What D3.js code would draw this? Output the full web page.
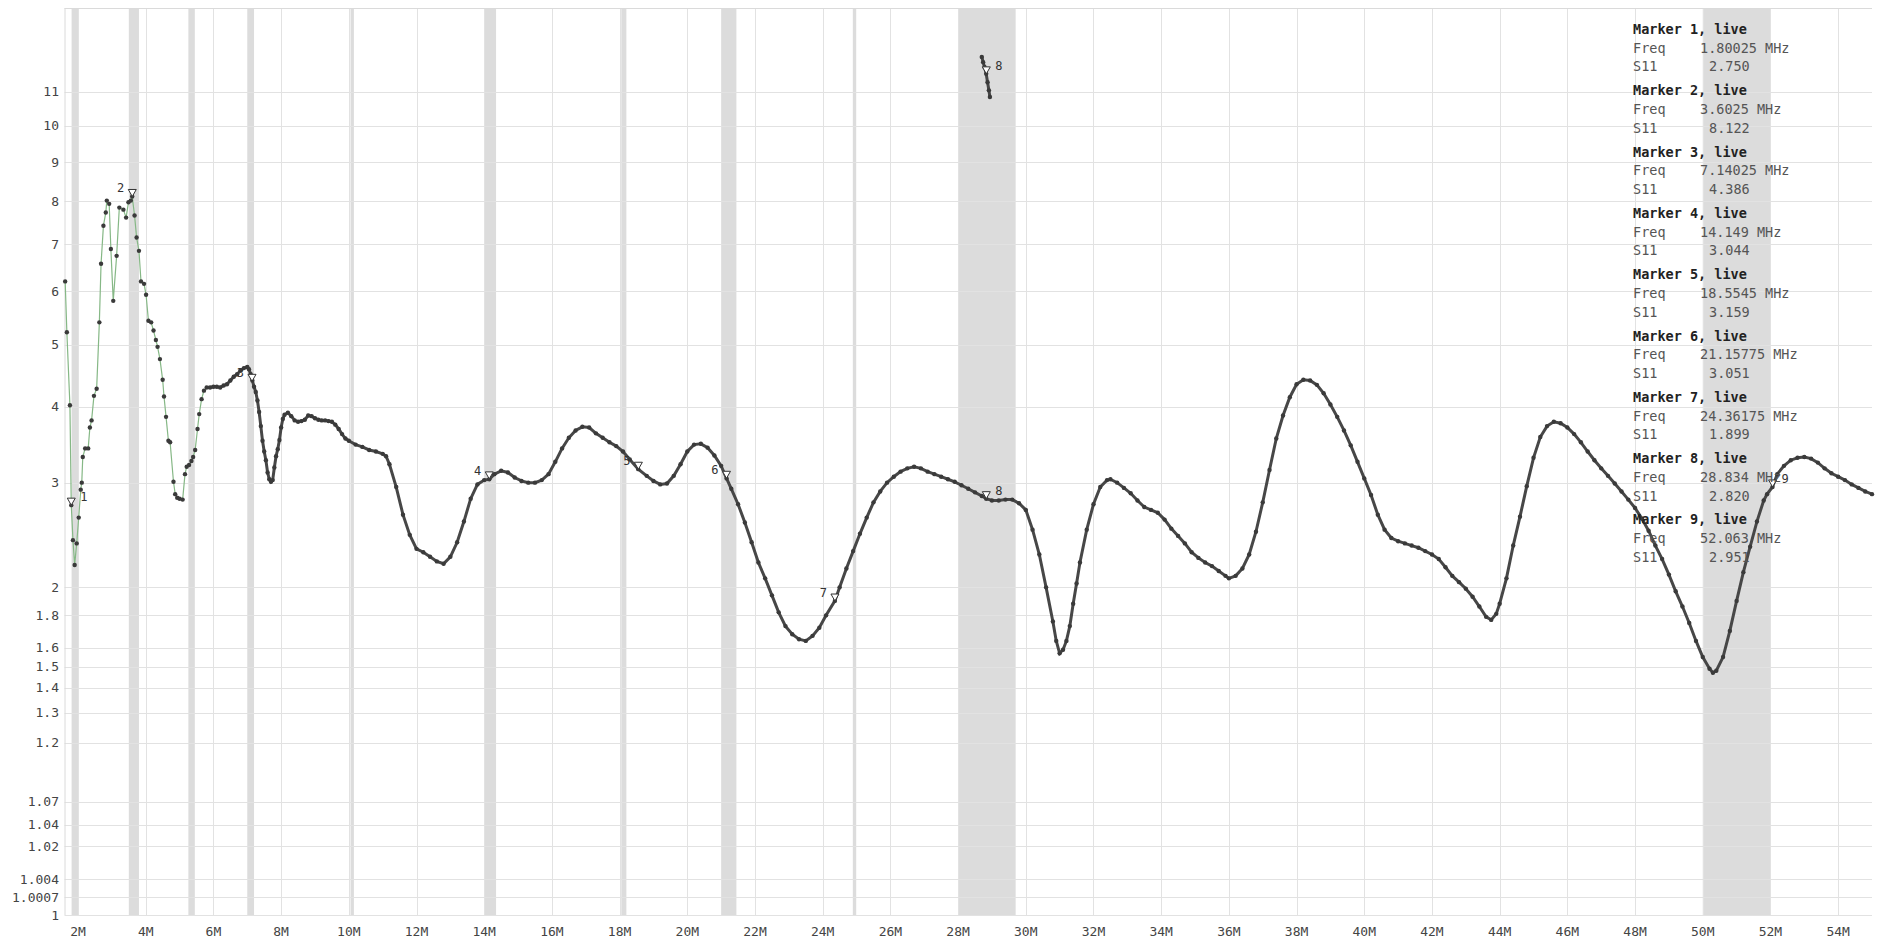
<!DOCTYPE html>
<html>
<head>
<meta charset="utf-8">
<script src="https://cdn.jsdelivr.net/npm/d3@7"></script>
<style>
  body { margin: 0; background: #fff; }
  text { font-family: "DejaVu Sans Mono", monospace; }
</style>
</head>
<body>
<div id="graphicContainer"></div>
<script>
// ---- data ----
var yTicks = [1, 1.0007, 1.004, 1.02, 1.04, 1.07, 1.2, 1.3, 1.4, 1.5, 1.6, 1.8, 2, 3, 4, 5, 6, 7, 8, 9, 10, 11]
var xTicks = [2, 4, 6, 8, 10, 12, 14, 16, 18, 20, 22, 24, 26, 28, 30, 32, 34, 36, 38, 40, 42, 44, 46, 48, 50, 52, 54]

// ham bands (MHz)
var bands = [[1.81, 2.0], [3.5, 3.8], [5.26, 5.45], [7.0, 7.2], [10.05, 10.15], [14.0, 14.35],
  [18.05, 18.2], [21.0, 21.45], [24.89, 24.99], [28.0, 29.7], [50.0, 52.0]]

// sparse, noisy start of the sweep [MHz, SWR]
var sweepLow = [[1.62, 6.20], [1.67, 5.22], [1.76, 4.02], [1.80, 2.75], [1.85, 2.40], [1.90, 2.18], [1.96, 2.37],
  [2.02, 2.62], [2.08, 2.92], [2.11, 3.00], [2.14, 3.31], [2.21, 3.42], [2.30, 3.42], [2.35, 3.70], [2.40, 3.80],
  [2.47, 4.16], [2.55, 4.27], [2.63, 5.40], [2.68, 6.57], [2.75, 7.42], [2.82, 7.73], [2.85, 8.02], [2.92, 7.94],
  [2.97, 6.89], [3.04, 5.81], [3.14, 6.74], [3.22, 7.85], [3.34, 7.80], [3.42, 7.61], [3.49, 7.98], [3.56, 8.02],
  [3.60, 8.12], [3.67, 7.66], [3.73, 7.15], [3.80, 6.85], [3.86, 6.20], [3.95, 6.15], [4.01, 5.93], [4.08, 5.43],
  [4.16, 5.40], [4.23, 5.25], [4.30, 5.08], [4.35, 4.96], [4.42, 4.75], [4.50, 4.41], [4.54, 4.15], [4.60, 3.85],
  [4.67, 3.52], [4.72, 3.50], [4.82, 3.01], [4.87, 2.87], [4.93, 2.83], [5.00, 2.82], [5.09, 2.81], [5.16, 3.10],
  [5.21, 3.19], [5.28, 3.21], [5.35, 3.26], [5.40, 3.31], [5.46, 3.40], [5.53, 3.68], [5.58, 3.89], [5.65, 4.11],
  [5.72, 4.24], [5.80, 4.29]]

// rest of the sweep [MHz, SWR]
var sweepHigh = [[5.80, 4.29], [5.9, 4.29], [6.0, 4.30], [6.1, 4.30], [6.2, 4.29], [6.3, 4.32], [6.4, 4.34],
  [6.5, 4.40], [6.6, 4.46], [6.7, 4.50], [6.8, 4.56], [6.9, 4.60], [7.0, 4.62], [7.05, 4.58], [7.1, 4.50],
  [7.15, 4.40], [7.2, 4.30], [7.25, 4.22], [7.3, 4.09], [7.35, 3.92], [7.4, 3.72], [7.45, 3.52], [7.5, 3.38],
  [7.55, 3.27], [7.6, 3.12], [7.65, 3.04], [7.7, 3.01], [7.75, 3.03], [7.8, 3.18], [7.85, 3.32], [7.9, 3.41],
  [7.95, 3.53], [8.0, 3.70], [8.05, 3.82], [8.1, 3.88], [8.2, 3.91], [8.3, 3.86], [8.4, 3.80], [8.5, 3.78],
  [8.6, 3.79], [8.7, 3.81], [8.8, 3.87], [8.9, 3.86], [9.0, 3.83], [9.1, 3.81], [9.2, 3.80], [9.3, 3.80],
  [9.4, 3.79], [9.5, 3.78], [9.6, 3.74], [9.7, 3.68], [9.8, 3.61], [9.9, 3.55], [10.0, 3.52], [10.2, 3.47],
  [10.4, 3.44], [10.6, 3.40], [10.8, 3.38], [11.0, 3.35], [11.1, 3.32], [11.2, 3.22], [11.4, 2.95], [11.6, 2.65],
  [11.8, 2.45], [12.0, 2.32], [12.2, 2.29], [12.4, 2.25], [12.6, 2.21], [12.8, 2.19], [13.0, 2.25], [13.2, 2.38],
  [13.4, 2.58], [13.6, 2.82], [13.8, 2.98], [14.0, 3.03], [14.15, 3.04], [14.3, 3.10], [14.5, 3.14], [14.7, 3.12],
  [14.9, 3.06], [15.1, 3.02], [15.3, 3.00], [15.5, 3.00], [15.7, 3.03], [15.9, 3.10], [16.1, 3.25], [16.3, 3.42],
  [16.5, 3.56], [16.7, 3.66], [16.9, 3.71], [17.1, 3.70], [17.3, 3.62], [17.5, 3.56], [17.7, 3.50], [17.9, 3.45],
  [18.1, 3.38], [18.3, 3.28], [18.55, 3.16], [18.8, 3.08], [19.0, 3.02], [19.2, 2.98], [19.4, 2.99], [19.6, 3.08],
  [19.8, 3.22], [20.0, 3.38], [20.2, 3.47], [20.4, 3.48], [20.6, 3.43], [20.8, 3.33], [21.0, 3.20], [21.16, 3.05],
  [21.3, 2.93], [21.5, 2.76], [21.7, 2.57], [21.9, 2.38], [22.1, 2.20], [22.3, 2.07], [22.5, 1.94], [22.7, 1.82],
  [22.9, 1.73], [23.1, 1.68], [23.3, 1.65], [23.5, 1.64], [23.7, 1.67], [23.9, 1.72], [24.1, 1.80], [24.36, 1.90],
  [24.5, 2.00], [24.7, 2.15], [24.9, 2.30], [25.1, 2.46], [25.3, 2.62], [25.5, 2.78], [25.7, 2.90], [25.9, 3.00],
  [26.1, 3.07], [26.3, 3.13], [26.5, 3.17], [26.7, 3.19], [26.9, 3.17], [27.1, 3.13], [27.3, 3.10], [27.5, 3.07],
  [27.7, 3.04], [27.9, 3.01], [28.1, 2.97], [28.3, 2.93], [28.5, 2.89], [28.7, 2.85], [28.83, 2.82], [29.0, 2.80],
  [29.2, 2.80], [29.4, 2.81], [29.6, 2.81], [29.8, 2.77], [30.0, 2.70], [30.2, 2.50], [30.4, 2.27], [30.6, 2.00],
  [30.8, 1.76], [30.9, 1.64], [31.0, 1.57], [31.1, 1.59], [31.2, 1.64], [31.3, 1.73], [31.4, 1.88], [31.5, 2.03],
  [31.6, 2.20], [31.8, 2.50], [32.0, 2.76], [32.2, 2.95], [32.4, 3.03], [32.5, 3.04], [32.7, 3.00], [32.9, 2.94],
  [33.1, 2.88], [33.3, 2.80], [33.5, 2.73], [33.7, 2.70], [33.9, 2.67], [34.1, 2.60], [34.3, 2.51], [34.5, 2.44],
  [34.7, 2.37], [34.9, 2.29], [35.1, 2.24], [35.3, 2.20], [35.5, 2.17], [35.7, 2.13], [35.9, 2.09], [36.0, 2.07],
  [36.2, 2.09], [36.4, 2.15], [36.6, 2.27], [36.8, 2.48], [37.0, 2.78], [37.2, 3.15], [37.4, 3.55], [37.6, 3.87],
  [37.8, 4.14], [38.0, 4.34], [38.2, 4.41], [38.4, 4.40], [38.6, 4.33], [38.8, 4.20], [39.0, 4.03], [39.2, 3.85],
  [39.4, 3.66], [39.6, 3.46], [39.8, 3.25], [40.0, 3.05], [40.2, 2.86], [40.4, 2.65], [40.6, 2.50], [40.8, 2.42],
  [41.0, 2.39], [41.2, 2.37], [41.4, 2.35], [41.6, 2.33], [41.8, 2.30], [42.0, 2.27], [42.2, 2.23], [42.4, 2.16],
  [42.6, 2.09], [42.8, 2.04], [43.0, 1.99], [43.2, 1.93], [43.4, 1.86], [43.6, 1.79], [43.75, 1.77], [43.9, 1.81],
  [44.0, 1.88], [44.2, 2.07], [44.4, 2.35], [44.6, 2.63], [44.8, 2.96], [45.0, 3.30], [45.2, 3.57], [45.4, 3.72],
  [45.6, 3.78], [45.8, 3.76], [46.0, 3.70], [46.2, 3.61], [46.4, 3.50], [46.6, 3.38], [46.8, 3.27], [47.0, 3.17],
  [47.2, 3.08], [47.4, 2.99], [47.6, 2.90], [47.8, 2.81], [48.0, 2.72], [48.2, 2.61], [48.4, 2.49], [48.6, 2.35],
  [48.8, 2.23], [49.0, 2.10], [49.2, 1.97], [49.4, 1.86], [49.6, 1.75], [49.8, 1.64], [50.0, 1.55], [50.2, 1.49],
  [50.3, 1.47], [50.4, 1.48], [50.6, 1.55], [50.8, 1.70], [51.0, 1.90], [51.2, 2.12], [51.4, 2.34], [51.6, 2.58],
  [51.8, 2.80], [51.9, 2.87], [52.06, 2.95], [52.2, 3.10], [52.4, 3.20], [52.6, 3.27], [52.8, 3.30], [53.0, 3.31],
  [53.2, 3.29], [53.4, 3.24], [53.6, 3.17], [53.8, 3.11], [54.0, 3.07], [54.2, 3.03], [54.4, 2.98], [54.6, 2.94],
  [54.8, 2.90], [55.0, 2.87]]

// stray points near the top inside the 10 m band
var glitch = [[28.70, 12.10], [28.74, 11.93], [28.78, 11.78], [28.83, 11.56], [28.87, 11.30], [28.91, 11.05], [28.94, 10.85]]

var markers = [
  { n: 1, freq: 1.80025, swr: 2.750 },
  { n: 2, freq: 3.6025, swr: 8.122 },
  { n: 3, freq: 7.14025, swr: 4.386 },
  { n: 4, freq: 14.149, swr: 3.044 },
  { n: 5, freq: 18.5545, swr: 3.159 },
  { n: 6, freq: 21.15775, swr: 3.051 },
  { n: 7, freq: 24.36175, swr: 1.899 },
  { n: 8, freq: 28.834, swr: 2.820 },
  { n: 9, freq: 52.063, swr: 2.951 }
]
var glitchMarkers = [{ n: 8, freq: 28.834, swr: 11.56 }]
var labelsOnRight = [1, 8, 9]

// ---- layout ----
var width = 1879
var height = 939
var plot = { left: 64.5, right: 1872, top: 8, bottom: 915 }
var freqMin = 1.6
var freqMax = 55
var swrMax = 13.75

var svg = d3.select("#graphicContainer").append("svg")
  .attr("width", width)
  .attr("height", height)

var x = d3.scaleLinear().domain([freqMin, freqMax]).range([plot.left, plot.right])
// SWR axis: power 0.4 on (SWR - 1)
var yPow = d3.scalePow().exponent(0.4).domain([0, swrMax - 1]).range([plot.bottom, plot.top])
function y(s) {
  return yPow(s - 1)
}

// bands
svg.append("g").selectAll("rect")
  .data(bands)
  .enter().append("rect")
  .attr("x", function (d) { return x(d[0]) })
  .attr("width", function (d) { return Math.max(x(d[1]) - x(d[0]), 3) })
  .attr("y", plot.top)
  .attr("height", plot.bottom - plot.top)
  .attr("fill", "#dcdcdc")

// grid
var grid = svg.append("g")
grid.selectAll(".hgrid")
  .data(yTicks)
  .enter().append("line")
  .attr("class", "hgrid")
  .attr("x1", plot.left)
  .attr("x2", plot.right)
  .attr("y1", function (d) { return Math.round(y(d)) + 0.5 })
  .attr("y2", function (d) { return Math.round(y(d)) + 0.5 })
  .attr("stroke", "#e2e2e2")

grid.selectAll(".vgrid")
  .data(xTicks)
  .enter().append("line")
  .attr("class", "vgrid")
  .attr("y1", plot.top)
  .attr("y2", plot.bottom)
  .attr("x1", function (d) { return Math.round(x(d)) + 0.5 })
  .attr("x2", function (d) { return Math.round(x(d)) + 0.5 })
  .attr("stroke", "#e2e2e2")

// frame
grid.append("line").attr("x1", plot.left).attr("x2", plot.right)
  .attr("y1", plot.top + 0.5).attr("y2", plot.top + 0.5).attr("stroke", "#dadada")
grid.append("line").attr("x1", plot.left + 0.5).attr("x2", plot.left + 0.5)
  .attr("y1", plot.top).attr("y2", plot.bottom).attr("stroke", "#dadada")

// axis labels
svg.append("g").selectAll("text")
  .data(yTicks)
  .enter().append("text")
  .attr("x", 59)
  .attr("y", function (d) { return y(d) + 4.5 })
  .attr("text-anchor", "end")
  .attr("font-size", 13)
  .attr("fill", "#444")
  .text(function (d) { return d })

svg.append("g").selectAll("text")
  .data(xTicks)
  .enter().append("text")
  .attr("x", function (d) { return x(d) })
  .attr("y", 936)
  .attr("text-anchor", "middle")
  .attr("font-size", 13)
  .attr("fill", "#444")
  .text(function (d) { return d + "M" })

// trace
var line = d3.line()
  .x(function (d) { return x(d[0]) })
  .y(function (d) { return y(d[1]) })

svg.append("path")
  .datum(sweepLow)
  .attr("d", line)
  .attr("fill", "none")
  .attr("stroke", "#86b886")
  .attr("stroke-width", 1.2)

svg.append("path")
  .datum(sweepHigh)
  .attr("d", line)
  .attr("fill", "none")
  .attr("stroke", "#474747")
  .attr("stroke-width", 3)

svg.append("path")
  .datum(glitch)
  .attr("d", line)
  .attr("fill", "none")
  .attr("stroke", "#474747")
  .attr("stroke-width", 3)

var allPoints = sweepLow.concat(sweepHigh.slice(1), glitch)
svg.append("g").selectAll("circle")
  .data(allPoints)
  .enter().append("circle")
  .attr("cx", function (d) { return x(d[0]) })
  .attr("cy", function (d) { return y(d[1]) })
  .attr("r", 2.2)
  .attr("fill", "#3a3a3a")

// marker glyphs
function drawMarkers(list) {
  var g = svg.append("g")
  g.selectAll("path")
    .data(list)
    .enter().append("path")
    .attr("d", function (d) {
      var px = x(d.freq)
      var py = y(d.swr)
      return "M" + (px - 4) + "," + (py - 7) + "L" + (px + 4) + "," + (py - 7) + "L" + px + "," + py + "Z"
    })
    .attr("fill", "#fff")
    .attr("stroke", "#333")
    .attr("stroke-width", 1)

  g.selectAll("text")
    .data(list)
    .enter().append("text")
    .attr("x", function (d) {
      return labelsOnRight.indexOf(d.n) > -1 ? x(d.freq) + 9 : x(d.freq) - 8
    })
    .attr("y", function (d) { return y(d.swr) - 4 })
    .attr("text-anchor", function (d) {
      return labelsOnRight.indexOf(d.n) > -1 ? "start" : "end"
    })
    .attr("font-size", 12)
    .attr("fill", "#333")
    .text(function (d) { return d.n })
}
drawMarkers(markers)
drawMarkers(glitchMarkers)

// marker readout
var legend = svg.append("g")
markers.forEach(function (d, i) {
  var top = 34 + i * 61.3
  legend.append("text")
    .attr("x", 1633).attr("y", top)
    .attr("font-size", 13.5).attr("font-weight", "bold").attr("fill", "#222")
    .text("Marker " + d.n + ", live")
  legend.append("text")
    .attr("x", 1633).attr("y", top + 18.7)
    .attr("font-size", 13.5).attr("fill", "#555")
    .text("Freq")
  legend.append("text")
    .attr("x", 1700).attr("y", top + 18.7)
    .attr("font-size", 13.5).attr("fill", "#555")
    .text(d.freq + " MHz")
  legend.append("text")
    .attr("x", 1633).attr("y", top + 37.4)
    .attr("font-size", 13.5).attr("fill", "#555")
    .text("S11")
  legend.append("text")
    .attr("x", 1709).attr("y", top + 37.4)
    .attr("font-size", 13.5).attr("fill", "#555")
    .text(d.swr.toFixed(3))
})
</script>
</body>
</html>
